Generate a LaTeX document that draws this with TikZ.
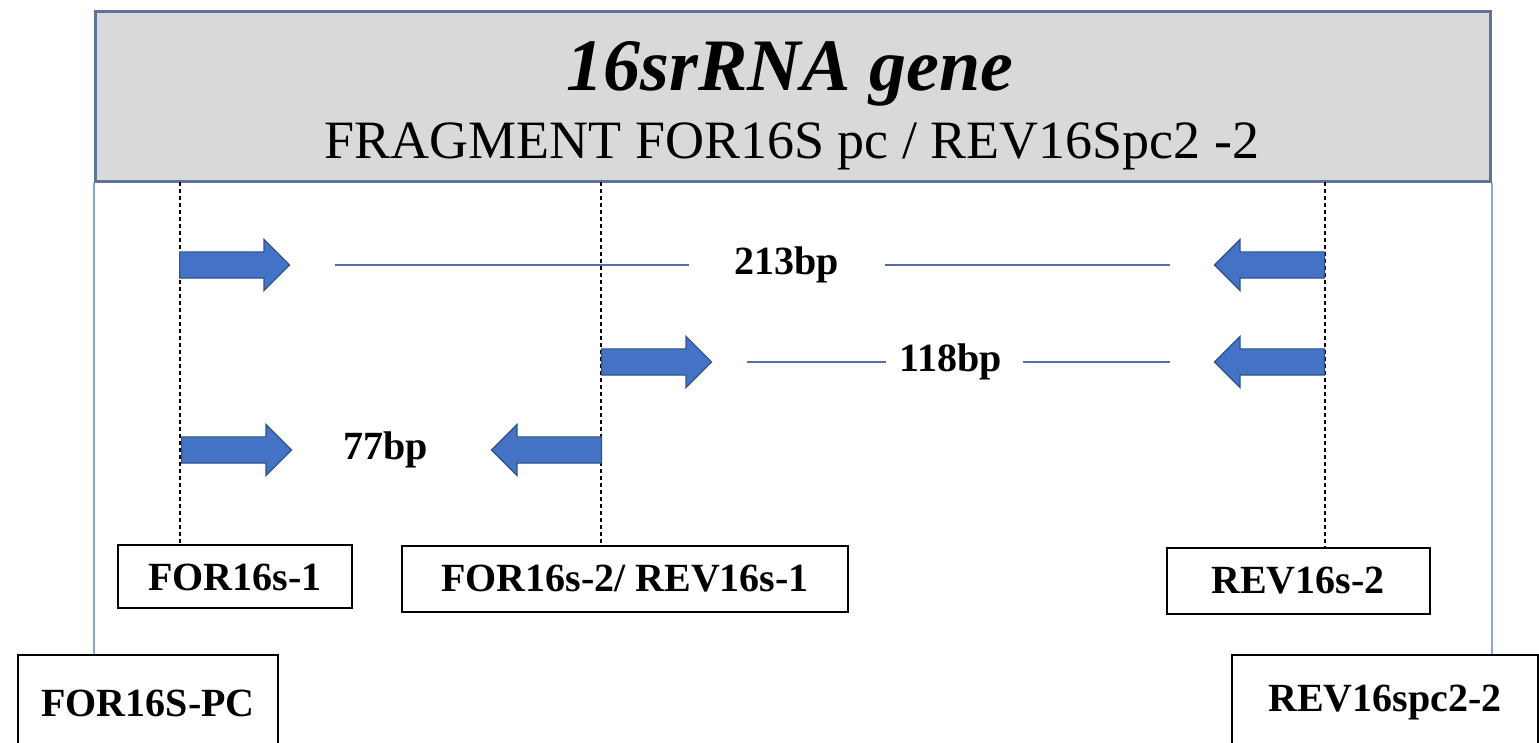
\documentclass[tikz,border=0pt]{standalone}
\usepackage{fontspec}
\setmainfont{Liberation Serif}
\usetikzlibrary{arrows.meta, positioning, shapes.arrows, calc}
\definecolor{primerblue}{RGB}{68,114,196}
\definecolor{primeredge}{RGB}{47,82,143}
\definecolor{headgray}{RGB}{217,217,217}
\definecolor{headedge}{RGB}{95,115,150}
\definecolor{frameblue}{RGB}{140,165,205}
\definecolor{spanblue}{RGB}{85,110,165}

\begin{document}
\begin{tikzpicture}[x=0.5pt, y=-0.5pt,
    header/.style={draw=headedge, fill=headgray, line width=1.5pt, inner sep=0pt},
    frame/.style={draw=frameblue, line width=1pt},
    guide/.style={draw=black, line width=0.8pt, dash pattern=on 2pt off 1.5pt},
    primer/.style={single arrow, draw=primeredge, fill=primerblue, line width=0.6pt,
        minimum height=55pt, single arrow head extend=6.25pt,
        inner xsep=0pt, inner ysep=6.25pt, anchor=tail},
    fwd/.style={primer},
    rev/.style={primer, shape border rotate=180},
    span/.style={draw=spanblue, line width=0.8pt},
    size/.style={inner sep=0pt, font=\fontsize{20}{24}\selectfont\bfseries},
    tag/.style={draw=black, line width=1pt, fill=white, inner sep=0pt,
        font=\fontsize{20}{24}\selectfont\bfseries}]
    \useasboundingbox (0,0) rectangle (1539,743);

    \node[header, minimum width=697.5pt, minimum height=85pt] (hdr) at (792.5,97) {};
    \node[font=\fontsize{37}{40}\selectfont\bfseries\itshape] (gene) at (790,74) {16srRNA gene};
    \node[font=\fontsize{27}{30}\selectfont] (frag) at (792,146) {FRAGMENT FOR16S pc / REV16Spc2 -2};

    \node[tag, minimum width=117pt, minimum height=31.5pt] (t1) at (235,577) {FOR16s-1};
    \node[tag, minimum width=223pt, minimum height=33pt] (t2) at (625,579) {FOR16s-2/ REV16s-1};
    \node[tag, minimum width=131.5pt, minimum height=33pt] (t3) at (1298,581) {REV16s-2};
    \node[tag, minimum width=130pt, minimum height=48pt] (pcl) at (148,703) {FOR16S-PC};
    \node[tag, minimum width=153pt, minimum height=48pt] (pcr) at (1385,703) {REV16spc2-2};

    \draw[frame] (hdr.south west) -- (hdr.south west |- pcl.north);
    \draw[frame] (hdr.south east) -- (hdr.south east |- pcr.north);

    \coordinate (g1) at (180,182);
    \coordinate (g2) at (601,182);
    \coordinate (g3) at (1325,182);
    \draw[guide] (g1) -- (g1 |- t1.north);
    \draw[guide] (g2) -- (g2 |- t2.north);
    \draw[guide] (g3) -- (g3 |- t3.north);

    \node[fwd] (f1) at (179,265) {};
    \node[rev] (r1) at (1325,265) {};
    \node[fwd] (f2) at (601,362) {};
    \node[rev] (r2) at (1325,362) {};
    \node[fwd] (f3) at (181,450) {};
    \node[rev] (r3) at (602,450) {};

    \node[size] (l213) at (787,265) {213bp};
    \node[size] (l118) at (951,362) {118bp};
    \node[size] (l77) at (386,450) {77bp};

    \draw[span, shorten <=22.5pt, shorten >=22.5pt] (f1.tip) -- (l213.west);
    \draw[span, shorten <=22.5pt, shorten >=22pt] (l213.east) -- (r1.tip);
    \draw[span, shorten <=17.5pt, shorten >=6.5pt] (f2.tip) -- (l118.west);
    \draw[span, shorten <=10pt, shorten >=22pt] (l118.east) -- (r2.tip);
\end{tikzpicture}
\end{document}
